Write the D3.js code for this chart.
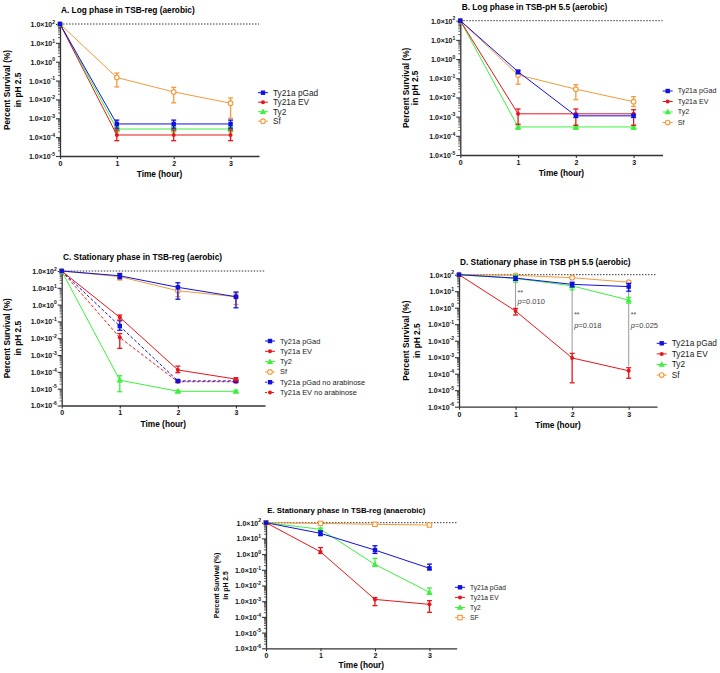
<!DOCTYPE html>
<html><head><meta charset="utf-8">
<script src="https://cdn.jsdelivr.net/npm/d3@7"></script>
<style>body{margin:0;background:#fff} svg{display:block;font-family:"Liberation Sans",Arial,sans-serif}</style>
</head><body><svg id="c" width="720" height="673"></svg>
<script>
// ---------- DATA ----------
const timeHours = [0, 1, 2, 3];
const xTickLabels = ["0", "1", "2", "3"];
const yTickExpAB = [2, 1, 0, -1, -2, -3, -4, -5];
const yTickExpCDE = [2, 1, 0, -1, -2, -3, -4, -5, -6];

// Panel A
const aPGad = [100, 5e-4, 5e-4, 5e-4];
const aPGadErr = [null, [3e-4, 8e-4], [3e-4, 8e-4], [3e-4, 8e-4]];
const aEV = [100, 1.3e-4, 1.3e-4, 1.3e-4];
const aEVErr = [null, [6.5e-5, 2.4e-4], [6.5e-5, 2.4e-4], [6.5e-5, 2.4e-4]];
const aTy2 = [100, 2.7e-4, 2.7e-4, 2.7e-4];
const aTy2Err = [null, [1.9e-4, 3.6e-4], [1.9e-4, 3.6e-4], [1.9e-4, 3.6e-4]];
const aSf = [100, 1.45e-1, 2.5e-2, 6.3e-3];
const aSfErr = [null, [4.6e-2, 2.5e-1], [6.6e-3, 4.4e-2], [1e-3, 1.2e-2]];

// Panel B
const bPGad = [100, 2.2e-1, 1.1e-3, 1.1e-3];
const bPGadErr = [null, [1.7e-1, 2.6e-1], [9e-4, 1.3e-3], [9e-4, 1.3e-3]];
const bEV = [100, 1.4e-3, 1.4e-3, 1.4e-3];
const bEVErr = [null, [4e-4, 2.5e-3], [3.5e-4, 2.5e-3], [3.5e-4, 2.3e-3]];
const bTy2 = [100, 2.9e-4, 2.9e-4, 2.9e-4];
const bTy2Err = [null, [2.2e-4, 3.6e-4], [2.2e-4, 3.6e-4], [2.2e-4, 3.6e-4]];
const bSf = [100, 1.5e-1, 2.7e-2, 6e-3];
const bSfErr = [null, [4.9e-2, 2.2e-1], [7.6e-3, 4.6e-2], [3.4e-3, 1.1e-2]];

// Panel C
const cPGad = [100, 52, 10.7, 2.95];
const cPGadErr = [null, [35, 70], [2.1, 20], [0.65, 5.6]];
const cEV = [100, 0.175, 1.3e-4, 3.7e-5];
const cEVErr = [null, [0.12, 0.24], [9e-5, 2.2e-4], [3e-5, 4.5e-5]];
const cTy2 = [100, 3.2e-5, 7e-6, 7e-6];
const cTy2Err = [null, [6.6e-6, 5.9e-5], [6e-6, 8e-6], [6e-6, 8e-6]];
const cSf = [100, 46, 6.7, 2.95];
const cSfErr = [null, [29, 73], [3, 12], [1, 5]];
const cPGadNoAra = [100, 5.3e-2, 2.9e-5, 2.9e-5];
const cPGadNoAraErr = [null, [3e-2, 1.1e-1], [2.5e-5, 3.4e-5], [2.5e-5, 3.4e-5]];
const cEVNoAra = [100, 1.1e-2, 2.6e-5, 2.6e-5];
const cEVNoAraErr = [null, [2.5e-3, 1.9e-2], [2.3e-5, 3e-5], [2.3e-5, 3e-5]];

// Panel D
const dPGad = [100, 62, 26, 19];
const dPGadErr = [null, [45, 80], [18, 35], [10, 30]];
const dEV = [100, 0.63, 9e-4, 1.5e-4];
const dEVErr = [null, [0.36, 0.9], [2.8e-5, 1.7e-3], [5.3e-5, 2.3e-4]];
const dTy2 = [100, 60, 21, 2.9];
const dTy2Err = [null, [35, 100], [12, 30], [1.9, 4.2]];
const dSf = [100, 92, 66, 35];
const dSfErr = [null, [85, 100], [58, 75], [30, 40]];
const dSigTime = [1, 2, 3];
const dSigTop = [60, 26, 19];
const dSigBottom = [0.63, 9e-4, 3e-4];
const dSigStars = ["**", "**", "**"];
const dSigP = ["0.010", "0.018", "0.025"];
const dSigStarAt = [10, 0.42, 0.42];
const dSigPAt = [2.3, 0.08, 0.09];

// Panel E
const ePGad = [100, 21, 1.8, 0.125];
const ePGadErr = [null, [15, 30], [1.1, 3.4], [0.1, 0.23]];
const eEV = [100, 1.4, 1.3e-3, 6.3e-4];
const eEVErr = [null, [1.1, 2.6], [5.2e-4, 1.7e-3], [1.95e-4, 1.08e-3]];
const eTy2 = [100, 38, 0.22, 3.7e-3];
const eTy2Err = [null, [30, 45], [0.17, 0.54], [2.8e-3, 6.9e-3]];
const eSF = [100, 90, 79, 71];
const eSFErr = [null, [82, 98], [72, 87], [64, 78]];

// ---------- STYLE ----------
const COL = {blue: "#1010e0", red: "#e8151b", green: "#3ef03e", orange: "#f39a3a"};
const FONT = 8.3;

const svg = d3.select("#c");

function marker(g, type, color, cx, cy) {
  if (type === "square") {
    g.append("rect").attr("x", cx - 2.2).attr("y", cy - 2.2).attr("width", 4.4).attr("height", 4.4).attr("fill", color);
  } else if (type === "circle") {
    g.append("circle").attr("cx", cx).attr("cy", cy).attr("r", 2).attr("fill", color);
  } else if (type === "triangle") {
    g.append("path").attr("d", d3.symbol(d3.symbolTriangle, 18)()).attr("transform", `translate(${cx},${cy + 0.5})`).attr("fill", color);
  } else if (type === "open") {
    g.append("circle").attr("cx", cx).attr("cy", cy).attr("r", 2.3).attr("fill", "#fff").attr("stroke", color).attr("stroke-width", 1.1);
  } else if (type === "opensq") {
    g.append("rect").attr("x", cx - 2.2).attr("y", cy - 2.2).attr("width", 4.4).attr("height", 4.4).attr("fill", "#fff").attr("stroke", color).attr("stroke-width", 1.1);
  }
}

function drawPanel(p) {
  const g = svg.append("g");
  const x = d3.scaleLinear().domain([0, 3.5]).range([p.left, p.right]);
  const y = d3.scaleLog().domain([Math.pow(10, p.exps[p.exps.length - 1]), 100]).range([p.bottom, p.top]);

  // reference dotted line at 100 %
  g.append("line").attr("x1", x(0)).attr("x2", x(3.5)).attr("y1", y(100)).attr("y2", y(100))
    .attr("stroke", "#222").attr("stroke-width", 0.9).attr("stroke-dasharray", "1.5,1.5");

  // minor ticks
  const minors = [];
  for (let e = p.exps[p.exps.length - 1]; e < 2; e++) for (let m = 2; m < 10; m++) minors.push(m * Math.pow(10, e));
  g.append("g").attr("transform", `translate(${p.left},0)`)
    .call(d3.axisLeft(y).tickValues(minors).tickSize(2).tickFormat(""))
    .call(s => { s.select(".domain").remove(); s.selectAll("line").attr("stroke", "#333").attr("stroke-width", 0.8); });

  // y axis
  const yAx = g.append("g").attr("transform", `translate(${p.left},0)`)
    .call(d3.axisLeft(y).tickValues(p.exps.map(e => Math.pow(10, e))).tickSize(4).tickSizeOuter(0).tickFormat(""));
  yAx.select(".domain").attr("stroke", "#333").attr("stroke-width", 1.3);
  yAx.selectAll(".tick line").attr("stroke", "#333").attr("stroke-width", 1.1);
  yAx.selectAll(".tick").each(function (d, i) {
    const t = d3.select(this).append("text").attr("x", -5).attr("dy", "0.35em").attr("text-anchor", "end")
      .attr("fill", "#111").attr("font-size", 7).attr("font-weight", "bold");
    t.append("tspan").text("1.0×10");
    t.append("tspan").attr("dy", -3.2).attr("font-size", 5).text(String(p.exps[i]));
  });

  // x axis
  const xAx = g.append("g").attr("transform", `translate(0,${p.bottom})`)
    .call(d3.axisBottom(x).tickValues(timeHours).tickSize(3).tickSizeOuter(0).tickFormat((d, i) => xTickLabels[i]));
  xAx.select(".domain").attr("stroke", "#333").attr("stroke-width", 1.3);
  xAx.selectAll(".tick line").attr("stroke", "#333").attr("stroke-width", 1.1);
  xAx.selectAll(".tick text").attr("font-size", 7).attr("font-weight", "bold").attr("fill", "#111").attr("y", 5)
    .attr("font-family", '"Liberation Sans",Arial,sans-serif');

  // titles
  g.append("text").attr("x", p.titleX).attr("y", p.titleY).attr("font-size", p.titleFont || FONT).attr("font-weight", "bold").text(p.title);
  g.append("text").attr("x", (p.left + p.right) / 2).attr("y", p.xlabelY).attr("text-anchor", "middle")
    .attr("font-size", FONT).attr("font-weight", "bold").text("Time (hour)");
  const cy = (p.top + p.bottom) / 2;
  const ylf = p.ylFont || FONT;
  g.append("text").attr("transform", `translate(${p.yl1},${cy}) rotate(-90)`).attr("text-anchor", "middle")
    .attr("font-size", ylf).attr("font-weight", "bold").text("Percent Survival (%)");
  g.append("text").attr("transform", `translate(${p.yl2},${cy}) rotate(-90)`).attr("text-anchor", "middle")
    .attr("font-size", ylf).attr("font-weight", "bold").text("in pH 2.5");

  // significance annotations
  if (p.sig) {
    const s = p.sig;
    s.time.forEach((t, i) => {
      g.append("line").attr("x1", x(t)).attr("x2", x(t)).attr("y1", y(s.top[i])).attr("y2", y(s.bottom[i]))
        .attr("stroke", "#999").attr("stroke-width", 1);
      g.append("text").attr("x", x(t) + 2).attr("y", y(s.starAt[i])).attr("dy", "0.5em").attr("font-size", 7).attr("fill", "#444").text(s.stars[i]);
      const pt = g.append("text").attr("x", x(t) + 2).attr("y", y(s.pAt[i])).attr("dy", "0.35em").attr("font-size", 7.5).attr("fill", "#444");
      pt.append("tspan").attr("font-style", "italic").text("p");
      pt.append("tspan").text("=" + s.p[i]);
    });
  }

  // series (drawn in reverse so first legend entry is on top)
  const line = d3.line().x((d, i) => x(timeHours[i])).y(d => y(d));
  p.series.slice().reverse().forEach(s => {
    const sg = g.append("g");
    sg.append("path").attr("d", line(s.values)).attr("fill", "none").attr("stroke", s.color)
      .attr("stroke-width", 1).attr("stroke-dasharray", s.dash ? "3,2" : null);
    s.err.forEach((e, i) => {
      if (!e) return;
      const xx = x(timeHours[i]);
      sg.append("line").attr("x1", xx).attr("x2", xx).attr("y1", y(e[0])).attr("y2", y(e[1])).attr("stroke", s.color).attr("stroke-width", 1.3);
      [e[0], e[1]].forEach(v => sg.append("line").attr("x1", xx - 2.5).attr("x2", xx + 2.5).attr("y1", y(v)).attr("y2", y(v)).attr("stroke", s.color).attr("stroke-width", 1.3));
    });
    s.values.forEach((v, i) => marker(sg, s.marker, s.color, x(timeHours[i]), y(v)));
  });

  // legend
  p.series.forEach((s, i) => {
    const ly = p.legY + i * p.legDy;
    const lg = g.append("g");
    lg.append("line").attr("x1", p.legX).attr("x2", p.legX + 10).attr("y1", ly).attr("y2", ly).attr("stroke", s.color)
      .attr("stroke-width", 1).attr("stroke-dasharray", s.dash ? "2,1.5" : null);
    marker(lg, s.marker, s.color, p.legX + 5, ly);
    lg.append("text").attr("x", p.legX + 15).attr("y", ly).attr("dy", "0.35em").attr("font-size", p.legFont).attr("fill", "#222").text(s.name);
  });
}

const S = (name, values, err, color, mk, dash) => ({name, values, err, color, marker: mk, dash});

drawPanel({
  title: "A. Log phase in TSB-reg (aerobic)", titleX: 61, titleY: 13,
  left: 60, right: 259, top: 24, bottom: 156, exps: yTickExpAB, xlabelY: 177, yl1: 10, yl2: 21,
  legX: 258, legY: 92.7, legDy: 9.5, legFont: 8.3,
  series: [S("Ty21a pGad", aPGad, aPGadErr, COL.blue, "square"), S("Ty21a EV", aEV, aEVErr, COL.red, "circle"),
           S("Ty2", aTy2, aTy2Err, COL.green, "triangle"), S("Sf", aSf, aSfErr, COL.orange, "open")]
});
drawPanel({
  title: "B. Log phase in TSB-pH 5.5 (aerobic)", titleX: 461.7, titleY: 10,
  left: 460.3, right: 662.5, top: 20.7, bottom: 155, exps: yTickExpAB, xlabelY: 176, yl1: 409, yl2: 418,
  legX: 662.7, legY: 91, legDy: 10.5, legFont: 7.1,
  series: [S("Ty21a pGad", bPGad, bPGadErr, COL.blue, "square"), S("Ty21a EV", bEV, bEVErr, COL.red, "circle"),
           S("Ty2", bTy2, bTy2Err, COL.green, "triangle"), S("Sf", bSf, bSfErr, COL.orange, "open")]
});
drawPanel({
  title: "C. Stationary phase in TSB-reg (aerobic)", titleX: 63, titleY: 260,
  left: 61.7, right: 265, top: 271, bottom: 405.5, exps: yTickExpCDE, xlabelY: 427, yl1: 10, yl2: 21,
  legX: 265, legY: 341, legDy: 10.3, legFont: 7.4,
  series: [S("Ty21a pGad", cPGad, cPGadErr, COL.blue, "square"), S("Ty21a EV", cEV, cEVErr, COL.red, "circle"),
           S("Ty2", cTy2, cTy2Err, COL.green, "triangle"), S("Sf", cSf, cSfErr, COL.orange, "open"),
           S("Ty21a pGad no arabinose", cPGadNoAra, cPGadNoAraErr, COL.blue, "square", true),
           S("Ty21a EV no arabinose", cEVNoAra, cEVNoAraErr, COL.red, "circle", true)]
});
drawPanel({
  title: "D. Stationary phase in TSB pH 5.5 (aerobic)", titleX: 460, titleY: 265,
  left: 459, right: 657, top: 274.7, bottom: 406.7, exps: yTickExpCDE, xlabelY: 428, yl1: 408.5, yl2: 419.5,
  legX: 656.7, legY: 343.3, legDy: 10.6, legFont: 8.3,
  sig: {time: dSigTime, top: dSigTop, bottom: dSigBottom, stars: dSigStars, p: dSigP, starAt: dSigStarAt, pAt: dSigPAt},
  series: [S("Ty21a pGad", dPGad, dPGadErr, COL.blue, "square"), S("Ty21a EV", dEV, dEVErr, COL.red, "circle"),
           S("Ty2", dTy2, dTy2Err, COL.green, "triangle"), S("Sf", dSf, dSfErr, COL.orange, "open")]
});
drawPanel({
  title: "E. Stationary phase in TSB-reg (anaerobic)", titleX: 267.3, titleY: 513, titleFont: 7.8,
  left: 266, right: 456.7, top: 522.7, bottom: 648.3, exps: yTickExpCDE, xlabelY: 668, yl1: 219, yl2: 228, ylFont: 6.8,
  legX: 455, legY: 587.3, legDy: 10.1, legFont: 6.6,
  series: [S("Ty21a pGad", ePGad, ePGadErr, COL.blue, "square"), S("Ty21a EV", eEV, eEVErr, COL.red, "circle"),
           S("Ty2", eTy2, eTy2Err, COL.green, "triangle"), S("SF", eSF, eSFErr, COL.orange, "opensq")]
});
</script></body></html>
